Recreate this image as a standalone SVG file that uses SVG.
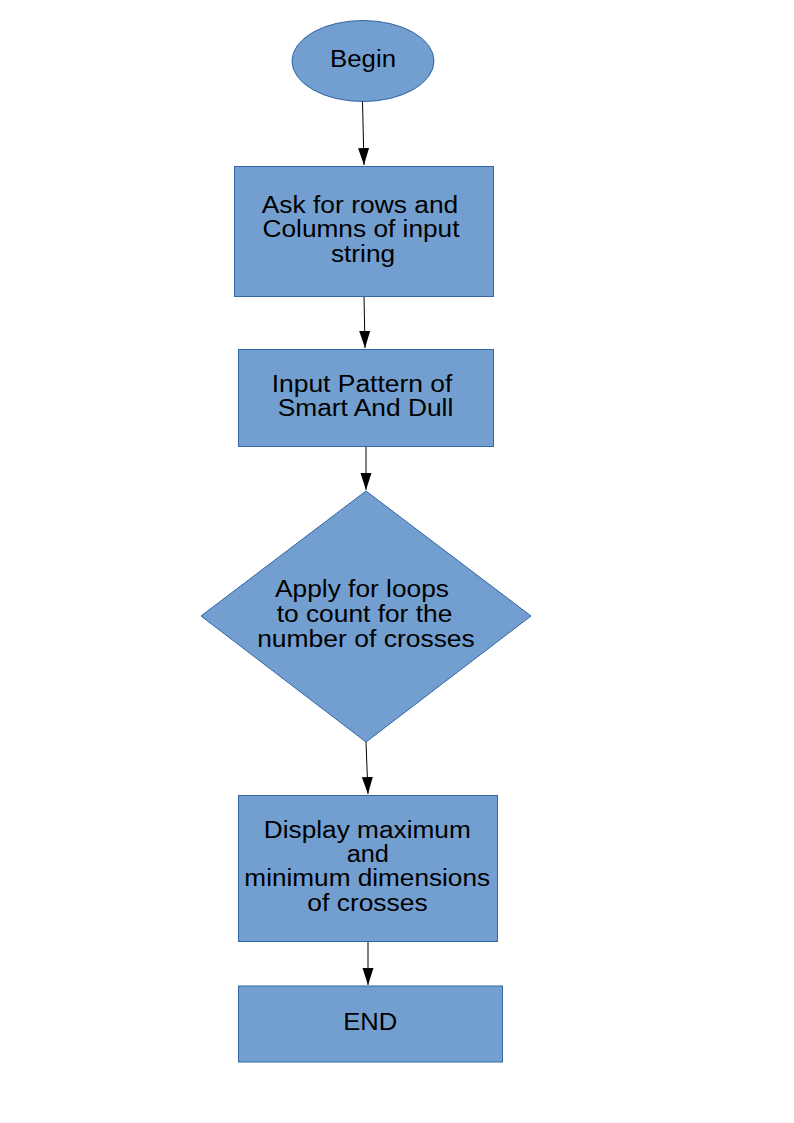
<svg xmlns="http://www.w3.org/2000/svg" width="794" height="1123" viewBox="0 0 794 1123">
<style>
.shape{fill:#729fcf;stroke:#3465a4;stroke-width:1}
.lbl{font-family:"Liberation Sans",Arial,sans-serif;font-size:23px;fill:#000;text-anchor:middle}
.conn{stroke:#000;stroke-width:1;fill:none;marker-end:url(#arr)}
</style>
<defs>
<marker id="arr" markerUnits="userSpaceOnUse" markerWidth="18" markerHeight="12" refX="17" refY="5.5" orient="auto">
<path d="M0,0 L17,5.5 L0,11 z" fill="#000"/>
</marker>
</defs>
<rect width="794" height="1123" fill="#fff"/>
<g id="connectors">
<line class="conn" x1="362.5" y1="102" x2="364" y2="165"/>
<line class="conn" x1="364" y1="296" x2="365" y2="348"/>
<line class="conn" x1="366" y1="446" x2="366" y2="490"/>
<line class="conn" x1="366" y1="742" x2="368" y2="794"/>
<line class="conn" x1="368" y1="941" x2="368" y2="985"/>
</g>
<g id="begin">
<ellipse class="shape" cx="363" cy="61" rx="71" ry="40.5"/>
<text class="lbl" x="363" y="67.3" textLength="66" lengthAdjust="spacingAndGlyphs">Begin</text>
</g>
<g id="ask">
<rect class="shape" x="234.5" y="166.5" width="259" height="130"/>
<text class="lbl" x="360" y="212.7" textLength="196.6" lengthAdjust="spacingAndGlyphs">Ask for rows and</text>
<text class="lbl" x="361" y="237.2" textLength="197" lengthAdjust="spacingAndGlyphs">Columns of input</text>
<text class="lbl" x="363" y="261.7" textLength="64" lengthAdjust="spacingAndGlyphs">string</text>
</g>
<g id="input">
<rect class="shape" x="238.5" y="349.5" width="255" height="97"/>
<text class="lbl" x="362" y="391.7" textLength="180.6" lengthAdjust="spacingAndGlyphs">Input Pattern of</text>
<text class="lbl" x="365.5" y="415.5" textLength="175.6" lengthAdjust="spacingAndGlyphs">Smart And Dull</text>
</g>
<g id="apply">
<polygon class="shape" points="366,491 531,616 366,742 201,616"/>
<text class="lbl" x="362" y="597.3" textLength="174" lengthAdjust="spacingAndGlyphs">Apply for loops</text>
<text class="lbl" x="364.5" y="622" textLength="175.6" lengthAdjust="spacingAndGlyphs">to count for the</text>
<text class="lbl" x="366" y="646.5" textLength="217.7" lengthAdjust="spacingAndGlyphs">number of crosses</text>
</g>
<g id="display">
<rect class="shape" x="238.5" y="795.5" width="259" height="146"/>
<text class="lbl" x="367.3" y="838.3" textLength="207" lengthAdjust="spacingAndGlyphs">Display maximum</text>
<text class="lbl" x="367.8" y="862" textLength="42.3" lengthAdjust="spacingAndGlyphs">and</text>
<text class="lbl" x="367.2" y="886" textLength="245.7" lengthAdjust="spacingAndGlyphs">minimum dimensions</text>
<text class="lbl" x="367.5" y="910.5" textLength="120.3" lengthAdjust="spacingAndGlyphs">of crosses</text>
</g>
<g id="end">
<rect class="shape" x="238.5" y="986" width="264" height="76"/>
<text class="lbl" x="370.3" y="1030" textLength="54" lengthAdjust="spacingAndGlyphs">END</text>
</g>
</svg>
